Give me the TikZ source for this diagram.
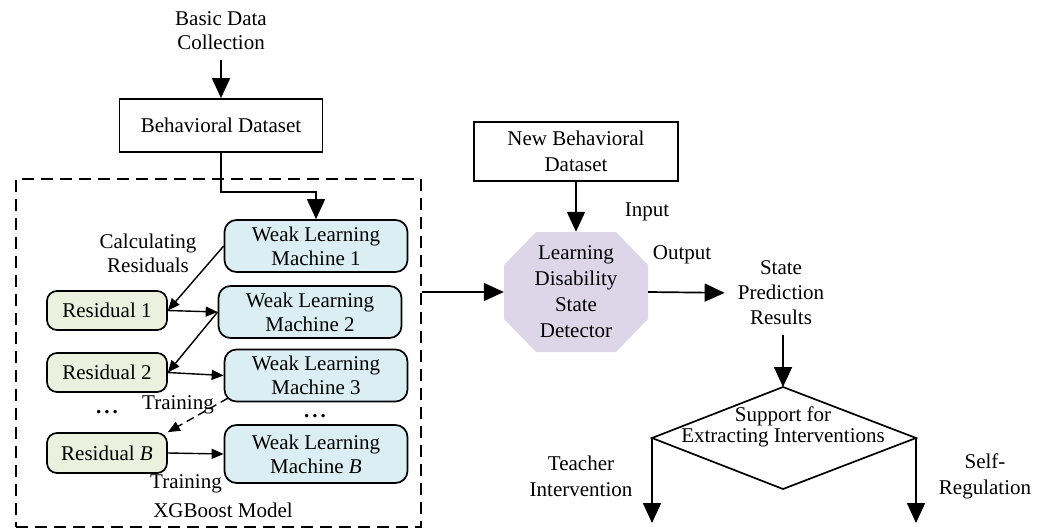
\documentclass[tikz,border=0pt]{standalone}
\usepackage{fontspec}
\setmainfont{Liberation Serif}
\usetikzlibrary{arrows.meta}
\definecolor{wlmblue}{HTML}{DBEEF4}
\definecolor{resgreen}{HTML}{EBF1DE}
\definecolor{detlav}{HTML}{DCD6E8}
\begin{document}
\begin{tikzpicture}[x=1pt,y=-1pt,
  every node/.style={font=\fontsize{21}{24}\selectfont, align=center, inner sep=0pt},
  plainbox/.style={draw, line width=1.7pt, rectangle},
  wlm/.style={draw, line width=1.7pt, rounded corners=12pt, fill=wlmblue, minimum width=183pt, minimum height=52pt},
  resbox/.style={draw, line width=1.7pt, rounded corners=10pt, fill=resgreen, minimum width=120pt, minimum height=39pt},
  bigarrow/.style={line width=1.7pt, -{Triangle[length=20pt,width=18pt]}},
  smallarrow/.style={line width=1.4pt, -{Triangle[length=12pt,width=10pt]}},
  spaced/.style={font=\fontsize{21}{26}\selectfont}
]
\useasboundingbox (0,0) rectangle (1048,532);

% top
\node (bdc) at (221,31) {Basic Data\\Collection};
\node[plainbox, minimum width=203pt, minimum height=53pt] (bd) at (221,125.5) {Behavioral Dataset};
\draw[bigarrow, shorten <=10pt] (bdc.south) -- (bd.north);

% dashed XGBoost frame
\node[draw, dash pattern=on 12pt off 7pt, line width=1.6pt, minimum width=405pt, minimum height=348pt] (xgb) at (218.5,353) {};

% weak learners
\node[wlm] (w1) at (316,246) {Weak Learning\\Machine 1};
\node[wlm] (w2) at (310,312) {Weak Learning\\Machine 2};
\node[wlm] (w3) at (316,375.5) {Weak Learning\\Machine 3};
\node[wlm, minimum height=58pt] (wb) at (316,454) {Weak Learning\\Machine \textit{B}};

% residuals
\node[resbox] (r1) at (107,310.5) {Residual 1};
\node[resbox] (r2) at (107,372.5) {Residual 2};
\node[resbox, minimum height=40pt] (rb) at (107,453) {Residual \textit{B}};

\node (d1) at (107,412) {\textbf{.\hspace{3pt}.\hspace{3pt}.}};
\node (d2) at (315,416) {\textbf{.\hspace{3pt}.\hspace{3pt}.}};

\draw[bigarrow] (bd.south) -- ++(0,39) -| (w1.north);
\draw[smallarrow] (w1.west) -- (r1.east);
\draw[smallarrow] (r1.east) -- (w2.west);
\draw[smallarrow] (w2.west) -- (r2.east);
\draw[smallarrow] (r2.east) -- (w3.west);
\draw[smallarrow, dash pattern=on 8pt off 5pt] ([xshift=4pt,yshift=4pt]w3.south west) -- (rb.north east);
\draw[smallarrow] (rb.east) -- (wb.west);

\node (calc) at (148,253) {Calculating\\Residuals};
\node (tr1) at (178,405) {Training};
\node (tr2) at (186,484) {Training};
\node (xgbl) at (223,510) {XGBoost Model};

% detector
\node[plainbox, spaced, minimum width=204pt, minimum height=59pt] (nbd) at (576,151.5) {New Behavioral\\Dataset};
\fill[detlav] (536,232) -- (616,232) -- (648,265) -- (648,319) -- (616,352) -- (536,352) -- (504,319) -- (504,265) -- cycle;
\node[spaced, minimum width=144pt, minimum height=120pt] (det) at (576,292) {Learning\\Disability\\State\\Detector};
\draw[bigarrow] (nbd.south) -- (det.north);
\draw[bigarrow] (xgb.east |- det.west) -- (det.west);
\node (in) at (647,212) {Input};
\node (out) at (682,255) {Output};

\node[font=\fontsize{21}{25}\selectfont] (resl) at (781,293) {State\\Prediction\\Results};
\draw[bigarrow, shorten >=13pt] (det.east) -- (resl.west);

% decision
\coordinate (dT) at (783,387);
\coordinate (dR) at (916,438);
\coordinate (dB) at (783,489);
\coordinate (dL) at (652,438);
\draw[line width=1.7pt, line join=miter] (dT) -- (dR) -- (dB) -- (dL) -- cycle;
\node[font=\fontsize{21}{21}\selectfont] (sup) at (783,427) {Support for\\Extracting Interventions};
\draw[bigarrow, shorten <=10pt] (resl.south -| dT) -- (dT);
\coordinate (tEnd) at (652,523);
\coordinate (sEnd) at (916,523);
\draw[bigarrow] (dL) -- (tEnd);
\draw[bigarrow] (dR) -- (sEnd);
\node[spaced] (teach) at (581,476) {Teacher\\Intervention};
\node[spaced] (self) at (985,476) {Self-\\Regulation};
\end{tikzpicture}
\end{document}
